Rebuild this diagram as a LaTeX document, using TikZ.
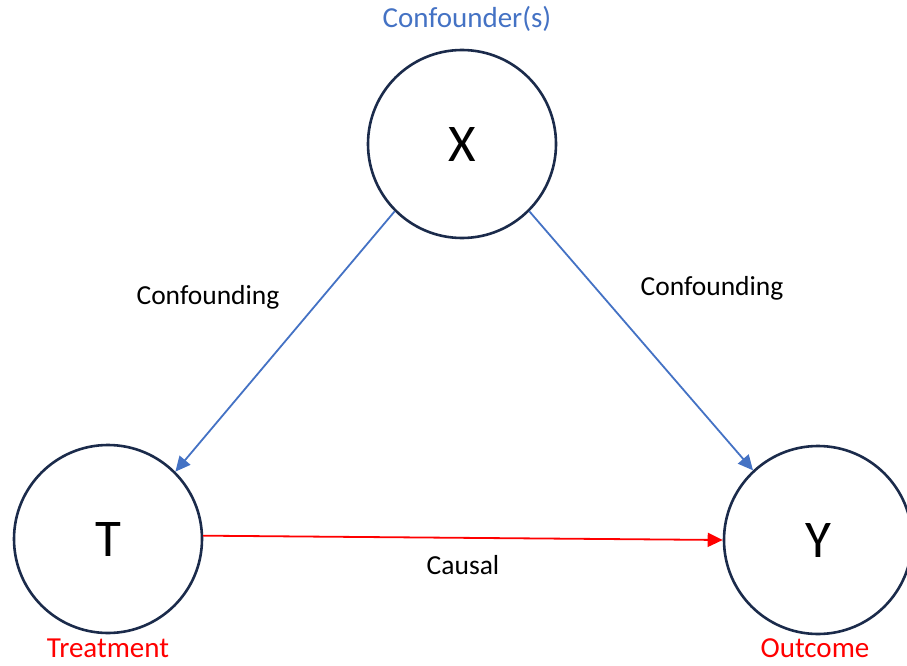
\documentclass[tikz,border=0pt]{standalone}
\usepackage{fontspec}
\setmainfont{Carlito}
\usetikzlibrary{arrows.meta}
\definecolor{ringcol}{HTML}{1B2B4B}
\definecolor{linkblue}{HTML}{4472C4}
\definecolor{causered}{HTML}{FF0000}
\tikzset{
  var/.style={circle, draw=ringcol, line width=2.6pt, fill=white,
    minimum size=188pt, inner sep=0pt,
    font=\fontsize{53}{60}\selectfont},
  lbl/.style={font=\fontsize{27.5}{32}\selectfont, text=black},
  role/.style={font=\fontsize{29}{34}\selectfont, inner sep=0pt,
    anchor=base},
  conf/.style={draw=linkblue, line width=1.8pt,
    -{Triangle[length=15pt,width=14pt]}},
  cause/.style={draw=causered, line width=1.8pt,
    -{Triangle[length=15pt,width=14pt]}}
}
\begin{document}
\begin{tikzpicture}[x=1pt, y=-1pt]
  \useasboundingbox (0,0) rectangle (907,666);
  \begin{scope}
    \clip (0,0) rectangle (907,666);
    % variables
    \node[var] (X) at (462,144) {X};
    \node[var] (T) at (108,539) {T};
    \node[var] (Y) at (818,540) {Y};
    % role captions (placed by baseline)
    \node[role, text=linkblue] (capX) at (467,28) {Confounder(s)};
    \node[role, text=causered] (capT) at (108,657) {Treatment};
    \node[role, text=causered] (capY) at (815,657) {Outcome};
    % edges
    \draw[conf] (X.-135) -- (T.45);
    \draw[conf] (X.-45) -- (Y.133);
    \draw[cause] (T.2) -- (Y.west);
    % edge labels
    \node[lbl] (l1) at (208,297) {Confounding};
    \node[lbl] (l2) at (712,288) {Confounding};
    \node[lbl] (l3) at (463,565) {Causal};
  \end{scope}
\end{tikzpicture}
\end{document}
